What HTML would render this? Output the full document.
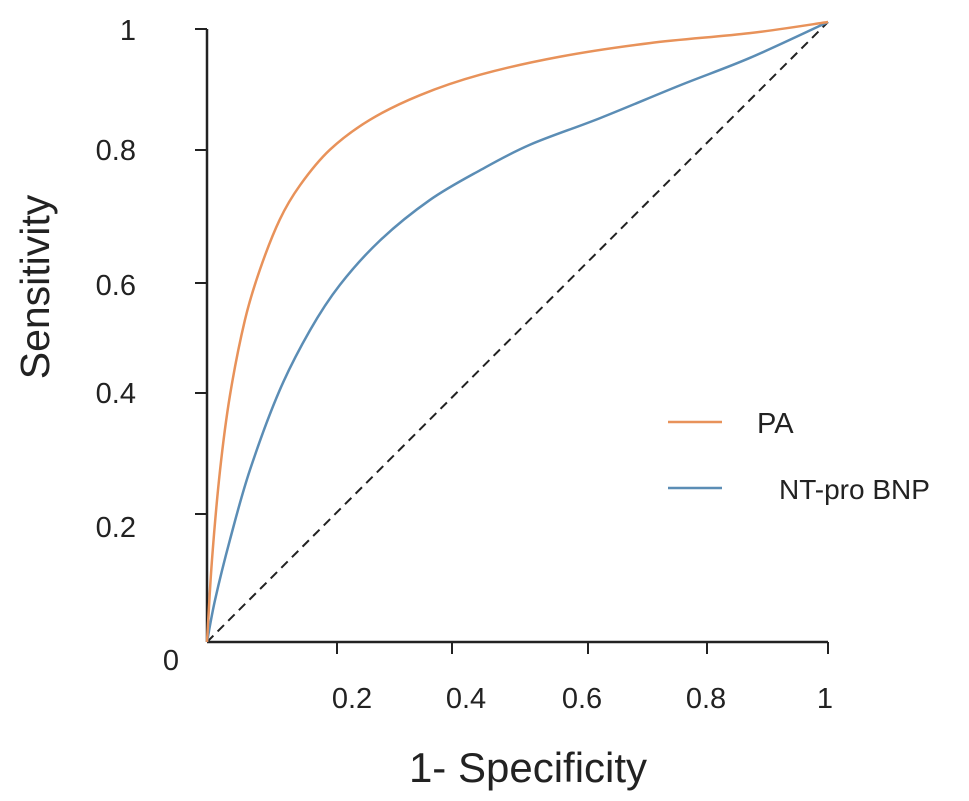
<!DOCTYPE html>
<html><head><meta charset="utf-8"><style>
html,body{margin:0;padding:0;background:#fff;}
svg{display:block;font-family:"Liberation Sans",sans-serif;}
</style></head><body>
<svg id="chart" width="969" height="801"></svg>
<script>
const xTickVals=[0.2,0.4,0.6,0.8,1];
const xTickPx=[337,452,588,707,828];
const xTickLabels=["0.2","0.4","0.6","0.8","1"];
const xLabelPx=[352,466,582,706,825];
const yTickLabels=["1","0.8","0.6","0.4","0.2","0"];
const yTickPx=[29,150,283,393,514,642];
const yLabelPx=[30,150,285,393,527,660];
const paX=[0,0.008,0.021,0.037,0.061,0.085,0.117,0.150,0.198,0.262,0.343,0.44,0.568,0.713,0.874,1];
const paY=[0,0.132,0.277,0.398,0.519,0.6,0.681,0.737,0.794,0.842,0.882,0.915,0.944,0.966,0.982,1];
const bnpX=[0,0.013,0.037,0.069,0.117,0.166,0.214,0.279,0.359,0.44,0.52,0.633,0.762,0.874,1];
const bnpY=[0,0.068,0.165,0.277,0.406,0.503,0.576,0.648,0.713,0.761,0.802,0.845,0.898,0.942,1];
const X0=207,X1=828,Y0=642,Y1=22;
const sx=v=>X0+v*(X1-X0), sy=v=>Y0-v*(Y0-Y1);
const NS="http://www.w3.org/2000/svg", svg=document.getElementById('chart');
function mk(t,a,txt){const e=document.createElementNS(NS,t);for(const k in a)e.setAttribute(k,a[k]);if(txt!=null)e.textContent=txt;svg.appendChild(e);return e;}
function smooth(xs,ys){const p=xs.map((x,i)=>[sx(x),sy(ys[i])]);let d="M"+p[0][0]+","+p[0][1];
for(let i=0;i<p.length-1;i++){const a=p[i-1]||p[i],b=p[i],c=p[i+1],e=p[i+2]||c;
d+=" C"+(b[0]+(c[0]-a[0])/6)+","+(b[1]+(c[1]-a[1])/6)+" "+(c[0]-(e[0]-b[0])/6)+","+(c[1]-(e[1]-b[1])/6)+" "+c[0]+","+c[1];}return d;}
let e;
e=mk('line',{x1:X0,y1:29,x2:X0,y2:Y0,stroke:'#222','stroke-width':2.5});

e=mk('line',{x1:X0,y1:Y0,x2:X1,y2:Y0,stroke:'#222','stroke-width':2.5});

yTickPx.slice(0,5).forEach((y,i)=>{e=mk('line',{x1:X0-12,y1:y,x2:X0,y2:y,stroke:'#222','stroke-width':2});
});
yTickLabels.forEach((t,i)=>{e=mk('text',{x:i==5?171:136,y:yLabelPx[i]+10,'text-anchor':i==5?'middle':'end','font-size':29,fill:'#222'},t);
});
xTickVals.forEach((v,i)=>{e=mk('line',{x1:xTickPx[i],y1:Y0,x2:xTickPx[i],y2:Y0+12,stroke:'#222','stroke-width':2});

e=mk('text',{x:xLabelPx[i],y:708,'text-anchor':'middle','font-size':29,fill:'#222'},xTickLabels[i]);
});
e=mk('line',{x1:sx(0),y1:sy(0),x2:sx(1),y2:sy(1),stroke:'#222','stroke-width':2,'stroke-dasharray':'9,6'});

e=mk('path',{d:smooth(bnpX,bnpY),fill:'none',stroke:'#5b8db5','stroke-width':2.5});

e=mk('path',{d:smooth(paX,paY),fill:'none',stroke:'#e8925a','stroke-width':2.5});

e=mk('line',{x1:668,y1:422,x2:722,y2:422,stroke:'#e8925a','stroke-width':2.5});

e=mk('text',{x:757,y:433,'font-size':29,fill:'#222'},'PA');

e=mk('line',{x1:668,y1:488,x2:722,y2:488,stroke:'#5b8db5','stroke-width':2.5});

e=mk('text',{x:779,y:499,'font-size':28,fill:'#222'},'NT-pro BNP');

e=mk('text',{x:528,y:782,'text-anchor':'middle','font-size':42,fill:'#222'},'1- Specificity');

e=mk('text',{x:0,y:0,'text-anchor':'middle','font-size':41,fill:'#222',transform:'translate(49,287) rotate(-90)'},'Sensitivity');

</script>
</body></html>
